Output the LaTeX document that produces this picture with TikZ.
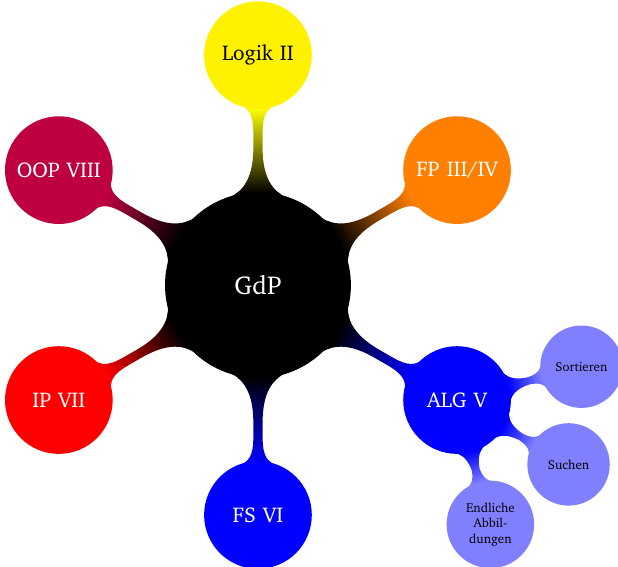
\documentclass[tikz,border=0pt]{standalone}
\usepackage[T1]{fontenc}
\usepackage{charter}
\usetikzlibrary{mindmap}
\tikzset{
  gdp map/.style={mindmap, grow cyclic, concept color=black, text=white,
    every node/.style={concept},
    root concept/.append style={minimum size=4cm, text width=3.5cm},
    level 1/.append style={level distance=5cm, sibling angle=60},
    level 1 concept/.append style={minimum size=2.3cm, text width=2cm, font=\fontsize{13.2}{16}\selectfont},
    level 2/.append style={level distance=2.8cm, sibling angle=45},
    level 2 concept/.append style={minimum size=1.75cm, text width=1.5cm, font=\footnotesize, text=black}},
}
\begin{document}
\begin{tikzpicture}[gdp map]
\useasboundingbox (-5.61,-6.13) rectangle (7.83,6.20);
\node[concept, font=\fontsize{16}{19}\selectfont] (gdp) {GdP}
  [clockwise from=90]
  child[concept color=yellow] {node[concept, text=black] (logik) {Logik II}}
  child[concept color=orange] {node[concept] (fp) {FP III/IV}}
  child[concept color=blue] {node[concept] (alg) {ALG V}
    [clockwise from=15]
    child[concept color=blue!50] {node[concept] (sort) {Sortieren}}
    child[concept color=blue!50] {node[concept] (such) {Suchen}}
    child[concept color=blue!50] {node[concept] (abb) {Endliche\\ Abbil-\\ dungen}}
  }
  child[concept color=blue] {node[concept] (fs) {FS VI}}
  child[concept color=red] {node[concept] (ip) {IP VII}}
  child[concept color=purple] {node[concept] (oop) {OOP VIII}};
\end{tikzpicture}
\end{document}
